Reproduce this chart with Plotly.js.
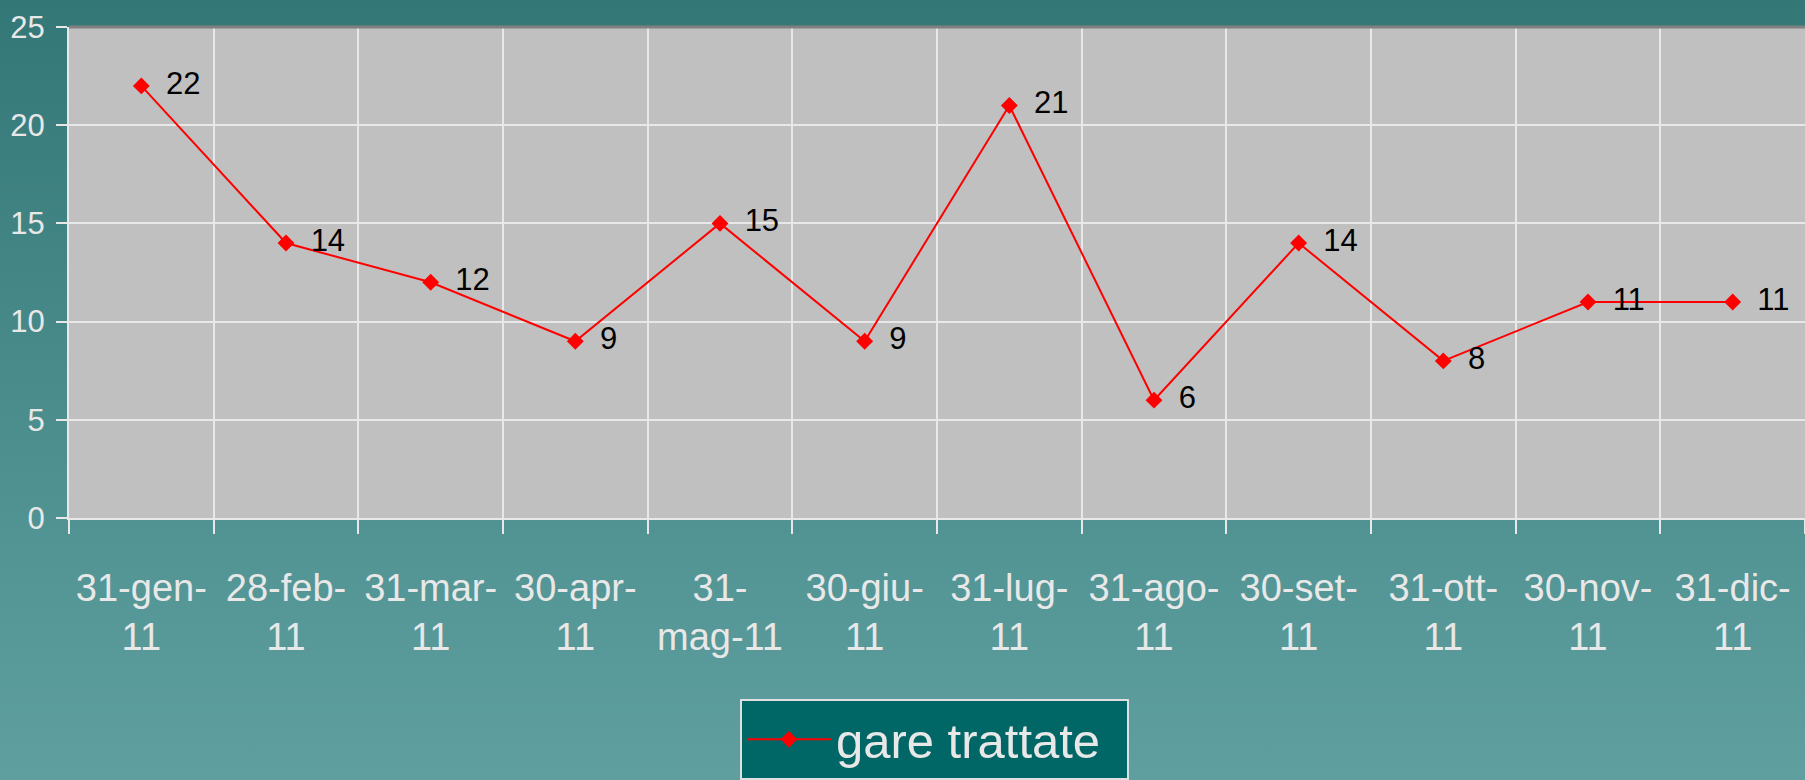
<!DOCTYPE html>
<html>
<head>
<meta charset="utf-8">
<script src="https://cdn.plot.ly/plotly-3.0.1.min.js"></script>
<style>
  html, body { margin: 0; padding: 0; width: 1805px; height: 780px; overflow: hidden;
    background: linear-gradient(to bottom, #347777 0%, #4a8c8c 50%, #5f9f9f 100%); }
  #chart { width: 1805px; height: 780px; }
</style>
</head>
<body>
<div id="chart"></div>
<script>
const categories = ["31-gen-<br>11", "28-feb-<br>11", "31-mar-<br>11", "30-apr-<br>11", "31-<br>mag-11", "30-giu-<br>11",
                    "31-lug-<br>11", "31-ago-<br>11", "30-set-<br>11", "31-ott-<br>11", "30-nov-<br>11", "31-dic-<br>11"];
const gareTrattate = [22, 14, 12, 9, 15, 9, 21, 6, 14, 8, 11, 11];
const seriesName = "gare trattate";
const yTicks = [0, 5, 10, 15, 20, 25];

const FONT = '"Liberation Sans", Arial, sans-serif';
const LIGHT = '#e8e8e8';

const trace = {
  type: 'scatter',
  mode: 'lines+markers+text',
  x: categories,
  y: gareTrattate,
  name: seriesName,
  text: gareTrattate.map(String),
  texttemplate: '\u2002%{text}',
  textposition: 'middle right',
  textfont: { family: FONT, size: 31, color: '#000000' },
  line: { color: '#ff0000', width: 2 },
  marker: { symbol: 'diamond', size: 13, color: '#ff0000' },
  cliponaxis: false
};

const layout = {
  width: 1805, height: 780,
  paper_bgcolor: 'rgba(0,0,0,0)',
  plot_bgcolor: '#c0c0c0',
  margin: { l: 69, r: 0, t: 27, b: 262 },
  font: { family: FONT, color: LIGHT },
  showlegend: true,
  xaxis: {
    type: 'category',
    range: [-0.5, 11.5],
    tickson: 'boundaries',
    tickangle: 0,
    ticks: 'outside', ticklen: 14, tickwidth: 2, tickcolor: LIGHT,
    showgrid: true, gridcolor: LIGHT, gridwidth: 2,
    showline: true, linecolor: LIGHT, linewidth: 2,
    tickfont: { family: FONT, size: 38, color: LIGHT },
    ticklabelstandoff: 35,
    automargin: false,
    zeroline: false, fixedrange: true
  },
  yaxis: {
    range: [0, 25],
    tickvals: yTicks,
    ticks: 'outside', ticklen: 11, tickwidth: 2, tickcolor: LIGHT,
    showgrid: true, gridcolor: LIGHT, gridwidth: 2,
    showline: true, linecolor: LIGHT, linewidth: 2,
    tickfont: { family: FONT, size: 31, color: LIGHT },
    ticklabelstandoff: 5,
    automargin: false,
    zeroline: false, fixedrange: true
  },
  legend: {
    orientation: 'h',
    x: 0.4985, xanchor: 'center',
    y: -0.3686, yanchor: 'top',
    bgcolor: '#006666',
    bordercolor: '#e0e0e0', borderwidth: 2,
    itemwidth: 84,
    entrywidth: 286,
    font: { family: FONT, size: 49, color: LIGHT }
  },
  shapes: [{
    type: 'line', xref: 'paper', yref: 'paper',
    x0: 0, x1: 1, y0: 1, y1: 1,
    line: { color: '#808080', width: 3 }
  }]
};

Plotly.newPlot('chart', [trace], layout, { displayModeBar: false, staticPlot: true });
</script>
</body>
</html>
